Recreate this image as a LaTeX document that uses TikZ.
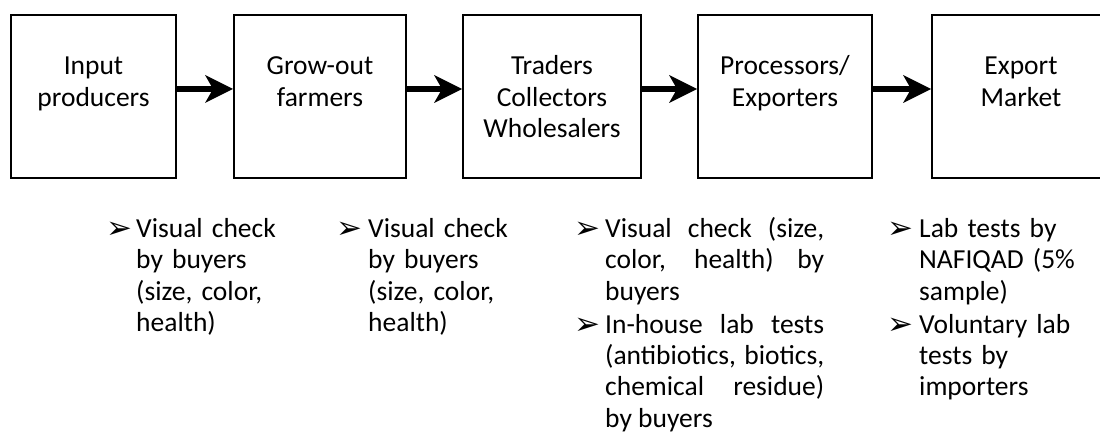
\documentclass[tikz,border=0pt]{standalone}
\usepackage{fontspec}
\setmainfont{Carlito}
\newfontfamily\dingfont{DejaVu Sans}
\usetikzlibrary{arrows.meta,positioning}
\tikzset{stage/.style={
            draw,
            line width=2pt,
            minimum height=163pt,
            inner sep=0pt
        },
        stagetext/.style={
            anchor=base,
            align=center,
            text width=150pt,
            inner sep=0pt,
            font=\fontsize{27.5}{31.5}\selectfont
        },
        flow/.style={
            line width=6.5pt,
            >={Stealth[length=28pt,width=28pt,inset=8pt,line width=0pt]}
        },
        tick/.style={
            anchor=base east,
            inner sep=0pt,
            yshift=-1.5pt,
            font=\dingfont\fontsize{31}{31}\selectfont
        },
        check/.style={
            anchor=base west,
            align=left,
            text width=175pt,
            inner sep=0pt,
            font=\fontsize{27.5}{31.5}\selectfont
        },
        fullcheck/.style={
            check,
            align=justify,
            text width=219pt,
            execute at begin node={\tolerance=10000\hyphenpenalty=10000 }
        }
    }

\begin{document}
\begin{tikzpicture}[x=1pt,y=1pt]
        \useasboundingbox (0,0) rectangle (1100,434);

        \node[stage,minimum width=165pt] at (93.5,337.5) (input) {};
        \node[stage,minimum width=172pt] at (320,337.5) (growout) {};
        \node[stage,minimum width=178pt] at (552,337.5) (traders) {};
        \node[stage,minimum width=174pt] at (785,337.5) (processors) {};
        \node[stage,minimum width=178pt] at (1021,337.5) (market) {};

        \node[stagetext] at ([yshift=21.5pt]input.center) (input-txt) {Input\\producers};
        \node[stagetext] at ([yshift=21.5pt]growout.center) (growout-txt) {Grow-out\\farmers};
        \node[stagetext] at ([yshift=21.5pt]traders.center) (traders-txt) {Traders\\Collectors\\Wholesalers};
        \node[stagetext] at ([yshift=21.5pt]processors.center) (processors-txt) {Processors/\\Exporters};
        \node[stagetext] at ([yshift=21.5pt]market.center) (market-txt) {Export\\Market};

        \draw[flow,->] ([yshift=7.5pt]input.east) -- ([yshift=7.5pt]growout.west);
        \draw[flow,->] ([yshift=7.5pt]growout.east) -- ([yshift=7.5pt]traders.west);
        \draw[flow,->] ([yshift=7.5pt]traders.east) -- ([yshift=7.5pt]processors.west);
        \draw[flow,->] ([yshift=7.5pt]processors.east) -- ([yshift=7.5pt]market.west);

        \node[check] at (136,196.5) (c1) {Visual check\\by buyers\\(size, color,\\health)};
        \node[check] at (368,196.5) (c2) {Visual check\\by buyers\\(size, color,\\health)};
        \node[fullcheck] at (605,196.5) (c3) {Visual check (size,\linebreak color, health) by\linebreak buyers};
        \node[fullcheck] at (605,101) (c4) {In-house lab tests\linebreak (antibiotics, biotics,\linebreak chemical residue)\linebreak by buyers};
        \node[check] at (919,196.5) (c5) {Lab tests by\\NAFIQAD (5\%\\sample)};
        \node[check] at (919,101) (c6) {Voluntary lab\\tests by\\importers};

        \node[tick] at ([xshift=-3pt]c1.base west) (b1) {➢};
        \node[tick] at ([xshift=-5pt]c2.base west) (b2) {➢};
        \node[tick] at ([xshift=-4pt]c3.base west) (b3) {➢};
        \node[tick] at ([xshift=-4pt]c4.base west) (b4) {➢};
        \node[tick] at ([xshift=-5pt]c5.base west) (b5) {➢};
        \node[tick] at ([xshift=-5pt]c6.base west) (b6) {➢};

    \end{tikzpicture}
\end{document}
